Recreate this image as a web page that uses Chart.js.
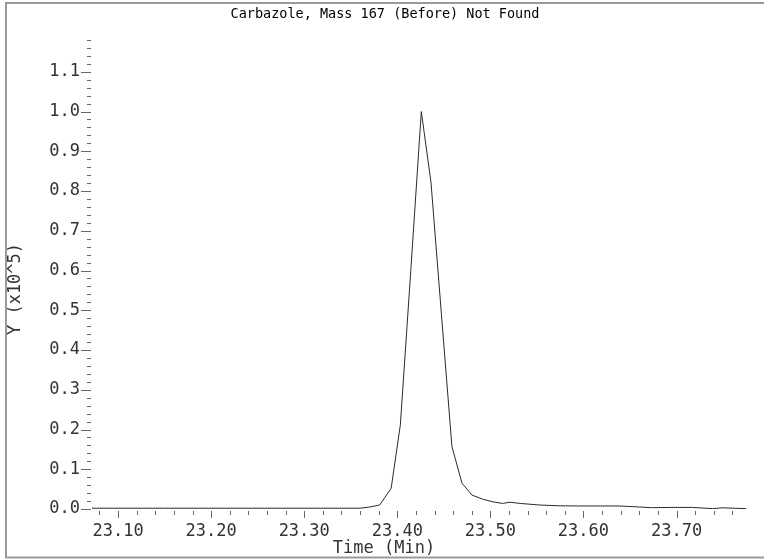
<!DOCTYPE html>
<html>
<head>
<meta charset="utf-8">
<title>Carbazole, Mass 167 (Before) Not Found</title>
<script src="https://cdn.jsdelivr.net/npm/chart.js@4.4.1/dist/chart.umd.min.js"></script>
<style>
  html, body { margin: 0; padding: 0; background: #fff; }
  canvas { display: block; }
</style>
</head>
<body>
<canvas id="chromChart" width="764" height="559"></canvas>
<script>
// scan times (min) and abundance (x10^5)
const timeMin = [23.072, 23.150, 23.250, 23.300, 23.360, 23.3704, 23.3811, 23.3934, 23.4033, 23.4145,
                 23.4258, 23.4362, 23.4474, 23.4587, 23.4695, 23.4802, 23.4926, 23.503, 23.513, 23.521,
                 23.532, 23.553, 23.575, 23.596, 23.618, 23.639, 23.660, 23.673, 23.695, 23.717,
                 23.739, 23.749, 23.775];
const abundance = [0.002, 0.002, 0.002, 0.002, 0.002, 0.005, 0.010, 0.052, 0.212, 0.600,
                   1.000, 0.822, 0.490, 0.157, 0.065, 0.035, 0.024, 0.018, 0.014, 0.017,
                   0.014, 0.010, 0.008, 0.0076, 0.0076, 0.0076, 0.005, 0.0033, 0.004, 0.004,
                   0.0008, 0.003, 0.0008];

const xTicks = [23.10, 23.20, 23.30, 23.40, 23.50, 23.60, 23.70];
const yTicks = [0.0, 0.1, 0.2, 0.3, 0.4, 0.5, 0.6, 0.7, 0.8, 0.9, 1.0, 1.1];

const MONO = "'DejaVu Sans Mono', 'Liberation Mono', monospace";

// title, tick marks every 0.02 (long ones at the labels), axis titles and the outer frame
const decorations = {
  id: 'decorations',
  afterDraw(chart) {
    const ctx = chart.ctx;
    const xs = chart.scales.x, ys = chart.scales.y;
    const area = chart.chartArea;
    ctx.save();
    ctx.strokeStyle = '#666';
    ctx.lineWidth = 1;
    ctx.beginPath();
    for (let i = 0; i <= 59; i++) {
      const py = Math.round(ys.getPixelForValue(i / 50)) + 0.5;
      const len = i % 5 === 0 ? 10 : 4;
      ctx.moveTo(area.left - 1, py);
      ctx.lineTo(area.left - 1 - len, py);
    }
    for (let i = 1154; i <= 1188; i++) { // 23.08 .. 23.76
      const px = Math.round(xs.getPixelForValue(i / 50)) + 0.5;
      const len = i % 5 === 0 ? 7 : 4;
      ctx.moveTo(px, area.bottom + 2);
      ctx.lineTo(px, area.bottom + 2 + len);
    }
    ctx.stroke();

    ctx.textAlign = 'center';
    ctx.textBaseline = 'middle';
    ctx.fillStyle = '#000';
    ctx.font = '13.5px ' + MONO;
    ctx.fillText('Carbazole, Mass 167 (Before) Not Found', 385, 14);

    ctx.fillStyle = '#333';
    ctx.font = '17px ' + MONO;
    ctx.fillText('Time (Min)', 384, 549);
    ctx.translate(16, 289);
    ctx.rotate(-Math.PI / 2);
    ctx.fillText('Y (x10^5)', 0, 0);
    ctx.restore();

    ctx.save();
    ctx.strokeStyle = '#9a9a9a';
    ctx.lineWidth = 2;
    ctx.beginPath();
    ctx.moveTo(764, 3);
    ctx.lineTo(6, 3);
    ctx.lineTo(6, 557.5);
    ctx.lineTo(764, 557.5);
    ctx.stroke();
    ctx.restore();
  }
};

const ctx = document.getElementById('chromChart').getContext('2d');

new Chart(ctx, {
  type: 'line',
  data: {
    datasets: [{
      data: timeMin.map((t, i) => ({ x: t, y: abundance[i] })),
      borderColor: '#2b2b2b',
      borderWidth: 1,
      pointRadius: 0,
      tension: 0,
      fill: false
    }]
  },
  options: {
    responsive: false,
    animation: false,
    layout: { padding: { left: 0, right: 13, top: 40, bottom: 0 } },
    plugins: {
      legend: { display: false },
      tooltip: { enabled: false },
      title: { display: false }
    },
    scales: {
      x: {
        type: 'linear',
        min: 23.072,
        max: 23.78,
        afterBuildTicks: s => { s.ticks = xTicks.map(v => ({ value: v })); },
        afterFit: s => { s.height = 50; },
        grid: { display: false, drawTicks: false },
        border: { display: false },
        ticks: {
          color: '#333',
          font: { family: MONO, size: 17 },
          padding: 12,
          maxRotation: 0,
          autoSkip: false,
          callback: v => Number(v).toFixed(2)
        }
      },
      y: {
        min: 0,
        max: 1.18,
        afterBuildTicks: s => { s.ticks = yTicks.map(v => ({ value: v })); },
        afterFit: s => { s.width = 92; },
        grid: { display: false, drawTicks: false },
        border: { display: false },
        ticks: {
          color: '#333',
          font: { family: MONO, size: 17 },
          padding: 12,
          autoSkip: false,
          callback: v => Number(v).toFixed(1)
        }
      }
    }
  },
  plugins: [decorations]
});
</script>
</body>
</html>
